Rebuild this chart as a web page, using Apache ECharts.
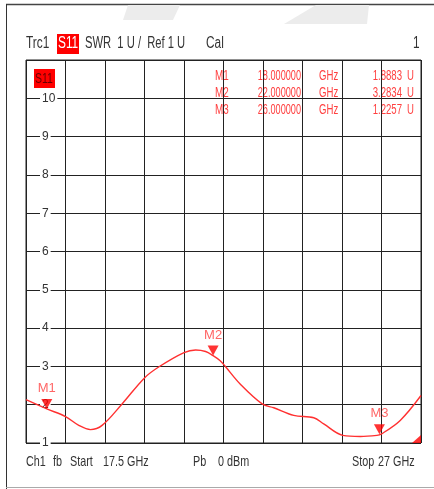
<!DOCTYPE html>
<html>
<head>
<meta charset="utf-8">
<script src="https://cdn.jsdelivr.net/npm/echarts@6/dist/echarts.min.js"></script>
<style>
  html, body { margin: 0; padding: 0; background: #fff; }
  #main { width: 434px; height: 489px; }
</style>
</head>
<body>
<div id="main"></div>
<script>
// S11 SWR trace, frequency in GHz
const freq = [17.5, 18.0, 18.45, 18.77, 19.05, 19.33, 19.81, 20.35, 20.7, 21.3, 21.58, 21.82, 22.0, 22.17, 22.3,
  22.65, 23.18, 23.46, 23.94, 24.42, 24.66, 25.12, 25.54, 25.94, 26.04, 26.5, 27.0]
const swr = [2.13, 1.89, 1.69, 1.46, 1.35, 1.46, 2.02, 2.70, 2.99, 3.36, 3.43, 3.39, 3.28, 3.15, 2.99,
  2.54, 2.02, 1.92, 1.72, 1.66, 1.50, 1.20, 1.17, 1.20, 1.23, 1.59, 2.24]

const markerNames = ['M1', 'M2', 'M3']
const markerFreq = [18, 22, 26]
const markerValue = [1.8883, 3.2834, 1.2257]

const yTicks = [1, 2, 3, 4, 5, 6, 7, 8, 9, 10]

const FONT = "'Liberation Sans', Arial, sans-serif"
const RED = '#ff3030'
const TXTRED = '#ff4040'

const myChart = echarts.init(document.getElementById('main'))

// texts are squeezed horizontally to look like the narrow analyzer font
function txt (x, y, s, size, sx, opt) {
  return {
    type: 'text', x: x, y: y, scaleX: sx,
    style: Object.assign({ text: s, font: size + 'px ' + FONT, fill: '#333', verticalAlign: 'middle' }, opt || {})
  }
}

const graphics = [
  // outer frame
  { type: 'line', shape: { x1: 6, y1: 4.5, x2: 434, y2: 4.5 }, style: { stroke: '#444', lineWidth: 1.5 } },
  { type: 'line', shape: { x1: 6.5, y1: 4, x2: 6.5, y2: 489 }, style: { stroke: '#333', lineWidth: 1 } },
  { type: 'line', shape: { x1: 6, y1: 487.5, x2: 434, y2: 487.5 }, style: { stroke: '#aaa', lineWidth: 1 } },
  // faded shapes at the top
  { type: 'polygon', shape: { points: [[128, 5], [180, 5], [173, 20], [123, 20]] }, style: { fill: '#ececec' } },
  { type: 'polygon', shape: { points: [[316, 5], [369, 5], [367, 24], [284, 24]] }, style: { fill: '#ececec' } },
  // header
  txt(26, 44, 'Trc1', 16, 0.74),
  { type: 'rect', shape: { x: 57, y: 34, width: 22, height: 20 }, style: { fill: '#ff0000' } },
  txt(58, 44, 'S11', 16, 0.74, { fill: '#fff' }),
  txt(85, 44, 'SWR  1 U /  Ref 1 U', 16, 0.7),
  txt(206, 44, 'Cal', 16, 0.74),
  txt(413, 44, '1', 16, 0.74),
  // trace label inside grid
  { type: 'rect', shape: { x: 34, y: 69, width: 21, height: 19 }, style: { fill: '#ff0000' } },
  txt(35, 78.5, 'S11', 15, 0.7, { fill: '#6a0000' }),
  // footer
  txt(26, 462, 'Ch1', 15, 0.72),
  txt(53, 462, 'fb', 15, 0.72),
  txt(70, 462, 'Start', 15, 0.72),
  txt(103, 462, '17.5 GHz', 15, 0.72),
  txt(193, 462, 'Pb', 15, 0.72),
  txt(218, 462, '0 dBm', 15, 0.72),
  txt(352, 462, 'Stop', 15, 0.72),
  txt(378, 462, '27 GHz', 15, 0.72)
]

// marker readout table
const rowY = [76, 93, 110]
for (let i = 0; i < markerNames.length; i++) {
  graphics.push(txt(215, rowY[i], markerNames[i], 15, 0.66, { fill: TXTRED }))
  graphics.push(txt(301, rowY[i], markerFreq[i].toFixed(6), 15, 0.61, { fill: TXTRED, align: 'right' }))
  graphics.push(txt(319, rowY[i], 'GHz', 15, 0.64, { fill: TXTRED }))
  graphics.push(txt(402, rowY[i], markerValue[i].toFixed(4), 15, 0.64, { fill: TXTRED, align: 'right' }))
  graphics.push(txt(407, rowY[i], 'U', 15, 0.64, { fill: TXTRED }))
}

const option = {
  backgroundColor: '#fff',
  animation: false,
  grid: {
    left: 26, right: 13, top: 60, bottom: 46,
    show: true, borderColor: '#222', borderWidth: 1
  },
  xAxis: [
    {
      type: 'value', min: 17.5, max: 27,
      show: false
    },
    {
      // 10 graticule divisions
      type: 'value', min: 0, max: 10, interval: 1,
      axisLine: { show: false }, axisTick: { show: false }, axisLabel: { show: false },
      splitLine: { lineStyle: { color: '#222', width: 1 } }
    }
  ],
  yAxis: {
    type: 'value', min: 1, max: 11, interval: 1,
    axisLine: { show: false }, axisTick: { show: false },
    splitLine: { lineStyle: { color: '#222', width: 1 } },
    axisLabel: {
      inside: true, margin: 14,
      color: '#333', fontFamily: FONT, fontSize: 12,
      backgroundColor: '#fff', padding: [0, 2],
      formatter: function (v) { return yTicks.indexOf(v) >= 0 ? String(v) : '' }
    }
  },
  series: [
    {
      name: 'S11',
      type: 'line',
      xAxisIndex: 0,
      smooth: 0.35,
      symbol: 'none',
      lineStyle: { color: RED, width: 1.4 },
      data: freq.map(function (f, i) { return [f, swr[i]] }),
      z: 3
    },
    {
      name: 'markers',
      type: 'scatter',
      xAxisIndex: 0,
      symbol: 'triangle',
      symbolRotate: 180,
      symbolSize: [11, 10],
      symbolOffset: [0, -5],
      itemStyle: { color: '#ff0000' },
      label: {
        show: true, position: 'top', distance: 4,
        color: TXTRED, fontFamily: FONT, fontSize: 13,
        formatter: function (p) { return p.name }
      },
      data: markerNames.map(function (n, i) { return { name: n, value: [markerFreq[i], markerValue[i]] } }),
      z: 4
    },
    {
      // reference position indicator at stop frequency
      name: 'ref',
      type: 'scatter',
      xAxisIndex: 0,
      symbol: 'path://M0,10 L10,0 L10,10 Z',
      symbolSize: [9, 8],
      symbolOffset: [-4.5, -4],
      itemStyle: { color: '#ff0000' },
      data: [[27, 1]],
      z: 4
    }
  ],
  graphic: graphics
}

myChart.setOption(option)
</script>
</body>
</html>
